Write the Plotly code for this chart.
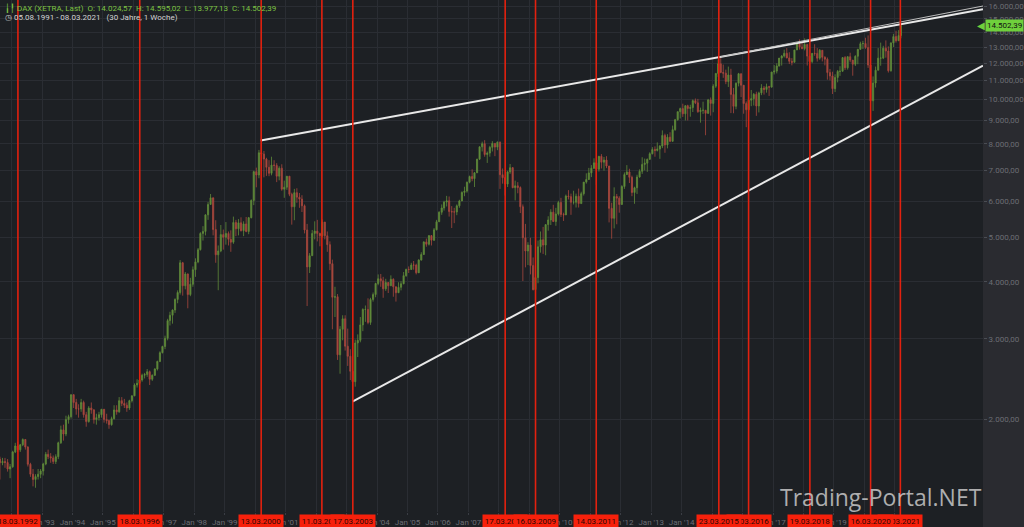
import math
import pandas as pd
import plotly.graph_objects as go

# ---------------- data (monthly candles) ----------------
first_month = "1991-08-01"
first_open = 1640

closes = [
    1610, 1620, 1612, 1560, 1578,                                              # 1991 Aug-Dec
    1700, 1752, 1718, 1762, 1810, 1742, 1598, 1520, 1480, 1502, 1520, 1545,    # 1992
    1600, 1680, 1660, 1650, 1620, 1660, 1780, 1900, 1860, 2000, 2030, 2267,    # 1993
    2180, 2110, 2110, 2180, 2050, 1980, 2120, 2100, 2000, 2020, 2050, 2107,    # 1994
    2000, 1990, 1950, 2010, 2100, 2080, 2200, 2170, 2150, 2120, 2200, 2254,    # 1995
    2380, 2400, 2440, 2500, 2510, 2545, 2450, 2500, 2580, 2680, 2800, 2889,    # 1996
    3010, 3290, 3380, 3470, 3660, 3790, 4400, 3920, 4160, 3750, 3950, 4250,    # 1997
    4420, 4700, 5100, 5150, 5600, 5900, 6100, 5200, 4580, 4670, 5070, 5002,    # 1998
    5100, 4950, 4880, 5390, 5220, 5380, 5170, 5350, 5150, 5520, 6020, 6958,    # 1999
    6840, 7650, 7600, 7410, 7110, 6900, 7190, 7180, 6800, 7080, 6370, 6434,    # 2000
    6800, 6210, 5830, 6260, 6120, 6060, 5860, 5190, 4310, 4560, 5100, 5160,    # 2001
    5100, 5040, 5400, 5040, 4820, 4380, 3700, 3710, 2770, 3150, 3320, 2893,    # 2002
    2750, 2550, 2420, 2940, 2980, 3220, 3480, 3480, 3260, 3660, 3750, 3965,    # 2003
    4060, 4020, 3860, 3985, 3920, 4050, 3900, 3785, 3890, 3960, 4125, 4256,    # 2004
    4254, 4350, 4349, 4185, 4460, 4586, 4887, 4829, 5044, 4929, 5193, 5408,    # 2005
    5674, 5796, 5970, 6009, 5692, 5683, 5682, 5859, 6004, 6268, 6309, 6597,    # 2006
    6789, 6716, 6917, 7409, 7883, 8007, 7584, 7638, 7862, 8020, 7871, 8067,    # 2007
    6851, 6748, 6535, 6949, 7097, 6418, 6479, 6422, 5831, 4988, 4669, 4810,    # 2008
    4338, 3844, 4085, 4769, 4941, 4809, 5332, 5458, 5675, 5414, 5625, 5957,    # 2009
    5608, 5598, 6154, 6136, 5965, 5966, 6148, 5925, 6229, 6601, 6688, 6914,    # 2010
    7077, 7272, 7041, 7514, 7294, 7376, 7159, 5785, 5502, 6141, 6089, 5898,    # 2011
    6458, 6856, 6947, 6761, 6264, 6416, 6772, 6970, 7216, 7260, 7405, 7612,    # 2012
    7776, 7741, 7795, 7914, 8348, 7959, 8276, 8103, 8594, 9033, 9406, 9552,    # 2013
    9306, 9692, 9556, 9603, 9943, 9833, 9407, 9470, 9474, 9327, 9980, 9806,    # 2014
    10694, 11402, 11966, 11454, 11414, 10945, 11309, 10259, 9660, 10850, 11382, 10743,  # 2015
    9798, 9495, 9966, 10039, 10263, 9680, 10337, 10593, 10511, 10665, 10640, 11481,     # 2016
    11535, 11834, 12313, 12438, 12615, 12325, 12118, 12055, 12829, 13230, 13024, 12918, # 2017
    13189, 12436, 12097, 12612, 12605, 12306, 12806, 12364, 12247, 11447, 11257, 10559, # 2018
    11173, 11516, 11526, 12344, 11727, 12399, 12189, 11939, 12428, 12867, 13236, 13249, # 2019
    12981, 11890, 9936, 10862, 11586, 12311, 12313, 12945, 12761, 11556, 13291, 13719,  # 2020
    13433, 13786, 14502,                                                                # 2021 Jan-Mar
]

highs = [
    1660, 1650, 1650, 1640, 1600,
    1710, 1780, 1790, 1770, 1820, 1810, 1750, 1610, 1560, 1520, 1560, 1560,
    1610, 1700, 1720, 1690, 1670, 1680, 1790, 1940, 1950, 2040, 2050, 2270,
    2271, 2220, 2160, 2220, 2200, 2080, 2140, 2180, 2110, 2060, 2080, 2110,
    2110, 2060, 2000, 2030, 2150, 2150, 2240, 2240, 2220, 2180, 2210, 2260,
    2400, 2450, 2480, 2520, 2530, 2580, 2560, 2510, 2590, 2690, 2820, 2900,
    3050, 3320, 3440, 3480, 3680, 3830, 4460, 4420, 4200, 4170, 4080, 4320,
    4500, 4740, 5130, 5290, 5610, 5970, 6217, 6050, 5450, 4800, 5320, 5200,
    5400, 5150, 5180, 5550, 5460, 5480, 5530, 5420, 5540, 5540, 6050, 6990,
    7100, 7760, 8136, 7720, 7460, 7370, 7500, 7370, 7260, 7150, 7220, 6650,
    6800, 6800, 6260, 6380, 6400, 6250, 6180, 5900, 5350, 4620, 5190, 5420,
    5460, 5120, 5470, 5400, 5150, 4900, 4470, 3900, 3760, 3200, 3380, 3380,
    3160, 2850, 2760, 2990, 3070, 3350, 3500, 3550, 3680, 3690, 3790, 3980,
    4150, 4160, 4100, 4060, 3990, 4130, 4070, 3870, 3990, 4010, 4200, 4272,
    4320, 4400, 4440, 4380, 4480, 4640, 4900, 4970, 5050, 5060, 5240, 5460,
    5700, 5900, 6010, 6160, 6140, 5850, 5800, 5900, 6040, 6300, 6450, 6620,
    6820, 7040, 6940, 7420, 7900, 8090, 8151, 7700, 7920, 8110, 8030, 8100,
    8100, 7070, 6740, 6990, 7230, 7120, 6650, 6600, 6460, 5900, 5350, 4880,
    4990, 4520, 4320, 4920, 5150, 5270, 5330, 5560, 5760, 5890, 5800, 6010,
    6100, 5660, 6200, 6340, 6230, 6320, 6230, 6390, 6290, 6600, 6900, 7090,
    7190, 7440, 7300, 7530, 7600, 7490, 7520, 7150, 5950, 6430, 6220, 6150,
    6500, 6930, 7190, 7060, 6820, 6450, 6850, 7040, 7480, 7430, 7430, 7670,
    7870, 7900, 8060, 7950, 8560, 8420, 8400, 8480, 8770, 9070, 9410, 9600,
    9790, 9720, 9740, 9740, 10000, 10050, 10030, 9600, 9890, 9480, 10030, 10100,
    10800, 11410, 12220, 12390, 11920, 11620, 11800, 11670, 10600, 10900, 11430, 11390,
    10490, 9900, 10110, 10490, 10330, 10400, 10400, 10800, 10700, 10830, 10710, 11490,
    11890, 12000, 12320, 12500, 12850, 12950, 12680, 12310, 12830, 13280, 13530, 13290,
    13597, 13200, 12460, 12620, 13200, 12950, 12890, 12800, 12430, 12350, 11660, 11500,
    11350, 11600, 11820, 12380, 12440, 12430, 12650, 12200, 12490, 12900, 13370, 13430,
    13640, 13800, 12100, 11230, 11800, 12950, 13310, 13100, 13460, 13060, 13330, 13910,
    14130, 14170, 14595,
]

lows = [
    1480, 1590, 1570, 1540, 1490,
    1570, 1690, 1700, 1700, 1750, 1720, 1580, 1500, 1430, 1420, 1480, 1490,
    1510, 1590, 1640, 1610, 1600, 1600, 1640, 1770, 1800, 1840, 1960, 2010,
    2120, 2050, 2020, 2080, 2020, 1930, 1970, 2060, 1960, 1950, 1990, 2020,
    1970, 1960, 1910, 1940, 2000, 2050, 2070, 2140, 2120, 2080, 2100, 2180,
    2250, 2350, 2390, 2420, 2460, 2480, 2380, 2430, 2490, 2560, 2670, 2790,
    2850, 2980, 3210, 3240, 3420, 3590, 3750, 3730, 3850, 3500, 3720, 3900,
    4100, 4390, 4680, 4920, 5050, 5460, 5900, 5050, 4400, 3833, 4640, 4700,
    4820, 4800, 4650, 4840, 5030, 5050, 5150, 5030, 5130, 5080, 5500, 5880,
    6430, 6730, 7210, 6760, 6810, 6800, 6830, 7000, 6600, 6660, 6320, 6100,
    6350, 6150, 5330, 5450, 5950, 5800, 5680, 5100, 3540, 4180, 4560, 4950,
    4900, 4780, 5000, 4950, 4650, 4240, 3150, 3350, 2700, 2519, 2980, 2830,
    2620, 2440, 2189, 2360, 2740, 2950, 3120, 3270, 3230, 3220, 3620, 3700,
    3930, 3900, 3690, 3820, 3780, 3920, 3710, 3620, 3780, 3830, 3950, 4100,
    4180, 4250, 4250, 4150, 4200, 4450, 4590, 4770, 4800, 4800, 4910, 5180,
    5400, 5600, 5720, 5840, 5550, 5240, 5370, 5590, 5800, 6000, 6150, 6260,
    6560, 6630, 6440, 6920, 7380, 7700, 7500, 7270, 7500, 7700, 7520, 7750,
    6380, 6550, 6170, 6440, 6880, 6400, 6020, 6240, 5650, 4014, 4300, 4350,
    4150, 3830, 3589, 3970, 4630, 4600, 4570, 5170, 5320, 5400, 5300, 5580,
    5540, 5430, 5600, 6050, 5600, 5900, 5810, 5810, 5920, 6170, 6550, 6720,
    6770, 7050, 6510, 6960, 7070, 6990, 7080, 5390, 4966, 5230, 5340, 5660,
    5900, 6380, 6840, 6570, 6150, 5920, 6220, 6750, 6880, 7000, 6950, 7380,
    7590, 7500, 7700, 7420, 7830, 7650, 7820, 8070, 8140, 8540, 8990, 9090,
    9160, 9000, 9000, 9170, 9390, 9770, 9350, 8900, 9300, 8355, 9300, 9220,
    9380, 10600, 11200, 11410, 11150, 10800, 10650, 9340, 9330, 9520, 10680, 10120,
    9310, 8700, 9400, 9670, 9700, 9210, 9370, 10220, 10250, 10350, 10180, 10630,
    11340, 11400, 11800, 11860, 12350, 12300, 11950, 11870, 12060, 12860, 12850, 12870,
    12800, 11860, 11700, 12000, 12460, 12100, 12210, 12110, 11870, 11050, 11010, 10280,
    10380, 10900, 11260, 11500, 11600, 11620, 12060, 11270, 11830, 11940, 12840, 12890,
    12900, 11720, 8700, 9440, 10620, 11600, 11850, 12250, 12340, 11450, 11500, 13020,
    13310, 13440, 13600,
]

# red event lines and their labels
event_dates = ["1992-03-18", "1996-03-18", "2000-03-13", "2002-03-11", "2003-03-17",
               "2008-03-17", "2009-03-16", "2011-03-14", "2015-03-23", "2016-03-14",
               "2018-03-19", "2020-03-16", "2021-03-08"]
event_labels = ["18.03.1992", "18.03.1996", "13.03.2000", "11.03.2002", "17.03.2003",
                "17.03.2008", "16.03.2009", "14.03.2011", "23.03.2015", "14.03.2016",
                "19.03.2018", "16.03.2020", "08.03.2021"]
label_draw_order = [0, 1, 2, 3, 4, 5, 6, 7, 9, 8, 10, 12, 11]

# white trend lines (anchor points: date, price)
upper_line = (["2000-03-07", "2023-11-24"], [8136, 15740])
upper_line2 = (["2015-04-10", "2023-11-24"], [12390, 16000])
lower_line = (["2003-03-12", "2023-11-24"], [2189, 11850])

# axes
y_ticks = [2000, 3000, 4000, 5000, 6000, 7000, 8000, 9000, 10000,
           11000, 12000, 13000, 14000, 15000, 16000]
x_tick_years = list(range(1992, 2022))
x_range = ["1991-08-16", "2023-11-24"]
y_range_vals = [1257, 16490]

title_name = "DAX (XETRA, Last)"
ohlc_last = ["14.024,57", "14.595,02", "13.977,13", "14.502,39"]
last_close = 14502.39
period_text = "05.08.1991 - 08.03.2021"
period_note = "(30 Jahre, 1 Woche)"
watermark = "Trading-Portal.NET"

# ---------------- build ----------------
dates = pd.date_range(first_month, periods=len(closes), freq="MS") + pd.Timedelta(days=14)
opens = [first_open] + closes[:-1]


def de_fmt(v):
    s = f"{v:,.2f}"
    return s.replace(",", "X").replace(".", ",").replace("X", ".")


BG = "#1d2024"
PANEL = "#2a2b30"
GRID = "#2a2d33"
TXT = "#6c6e74"
RED = "#e3210f"
GREEN = "#7cc242"

fig = go.Figure()

fig.add_trace(go.Candlestick(
    x=dates, open=opens, high=highs, low=lows, close=closes,
    increasing=dict(line=dict(color="#5f8a3a", width=0.8), fillcolor="#5f8a3a"),
    decreasing=dict(line=dict(color="#a8473d", width=0.8), fillcolor="#a8473d"),
    whiskerwidth=0, showlegend=False, hoverinfo="skip",
))

for (xs, ys), w, c in [(upper_line, 2, "#e8e8e8"), (upper_line2, 1, "#bdbdbd"),
                       (lower_line, 2, "#e8e8e8")]:
    fig.add_trace(go.Scatter(x=xs, y=ys, mode="lines",
                             line=dict(color=c, width=w),
                             showlegend=False, hoverinfo="skip"))

shapes = []
# right axis panel
shapes.append(dict(type="rect", xref="paper", yref="paper", x0=1, x1=1.2, y0=-0.2, y1=1.2,
                   fillcolor=PANEL, line=dict(width=0), layer="below"))
# red event lines
for d in event_dates:
    shapes.append(dict(type="line", xref="x", yref="paper", x0=d, x1=d, y0=-0.03, y1=1,
                       line=dict(color=RED, width=1.6), layer="above"))

annotations = []
for i in label_draw_order:
    annotations.append(dict(
        x=event_dates[i], y=0, xref="x", yref="paper", yanchor="top", yshift=-2,
        text=event_labels[i], showarrow=False, bgcolor="#f7200b",
        font=dict(size=8, color="#2a0804", family="Roboto"),
        borderpad=2, width=40))

# header
annotations.append(dict(
    xref="paper", yref="paper", x=0, y=1, xanchor="left", yanchor="top",
    xshift=3, yshift=-1, showarrow=False, align="left",
    text=(f"<span style='color:{GREEN}'>╽╿ {title_name}&nbsp;&nbsp;O: {ohlc_last[0]}&nbsp;&nbsp;"
          f"H: {ohlc_last[1]}&nbsp;&nbsp;L: {ohlc_last[2]}&nbsp;&nbsp;C: {ohlc_last[3]}</span>"),
    font=dict(size=8, family="Roboto")))
annotations.append(dict(
    xref="paper", yref="paper", x=0, y=1, xanchor="left", yanchor="top",
    xshift=3, yshift=-11, showarrow=False, align="left",
    text=f"◷ {period_text}&nbsp;&nbsp;&nbsp;{period_note}",
    font=dict(size=8, color="#d2d2d2", family="Roboto")))

# last price tag
annotations.append(dict(
    xref="paper", yref="y", x=1, y=math.log10(last_close), xanchor="left", yanchor="middle",
    xshift=2, showarrow=False, text=de_fmt(last_close), bgcolor="#6fd03c",
    font=dict(size=8, color="#111111", family="Roboto"), borderpad=1))
annotations.append(dict(
    xref="paper", yref="y", x=1, y=math.log10(last_close), xanchor="right", yanchor="middle",
    xshift=4, showarrow=False, text="◀",
    font=dict(size=10, color="#6fd03c", family="DejaVu Sans")))

# watermark
annotations.append(dict(
    xref="paper", yref="paper", x=1, y=0, xanchor="right", yanchor="bottom",
    xshift=1, yshift=-3, showarrow=False, text=watermark,
    font=dict(size=23, color="rgba(215,215,215,0.78)", family="Open Sans")))

fig.update_layout(
    width=1024, height=527,
    margin=dict(l=0, r=38, t=0, b=15),
    paper_bgcolor=BG, plot_bgcolor=BG,
    shapes=shapes, annotations=annotations,
    font=dict(family="Roboto", color=TXT, size=8),
    xaxis=dict(
        type="date", range=x_range, rangeslider=dict(visible=False),
        tickvals=[f"{y}-01-01" for y in x_tick_years],
        ticktext=[f"Jan '{str(y)[2:]}" for y in x_tick_years],
        showgrid=True, gridcolor=GRID, gridwidth=1,
        ticks="outside", ticklen=2, tickcolor="#3a3d44",
        tickfont=dict(size=8, color=TXT), zeroline=False, showline=False,
    ),
    yaxis=dict(
        type="log", side="right",
        range=[math.log10(y_range_vals[0]), math.log10(y_range_vals[1])],
        tickvals=y_ticks, ticktext=[de_fmt(v) for v in y_ticks],
        showgrid=True, gridcolor=GRID, gridwidth=1,
        ticks="outside", ticklen=3, tickcolor="#4a4d54",
        tickfont=dict(size=8, color=TXT), zeroline=False, showline=False,
    ),
    hovermode=False,
)

fig.write_html("out.html", config={"displayModeBar": False},
               post_script="document.body.style.margin='0';document.body.style.overflow='hidden';")
